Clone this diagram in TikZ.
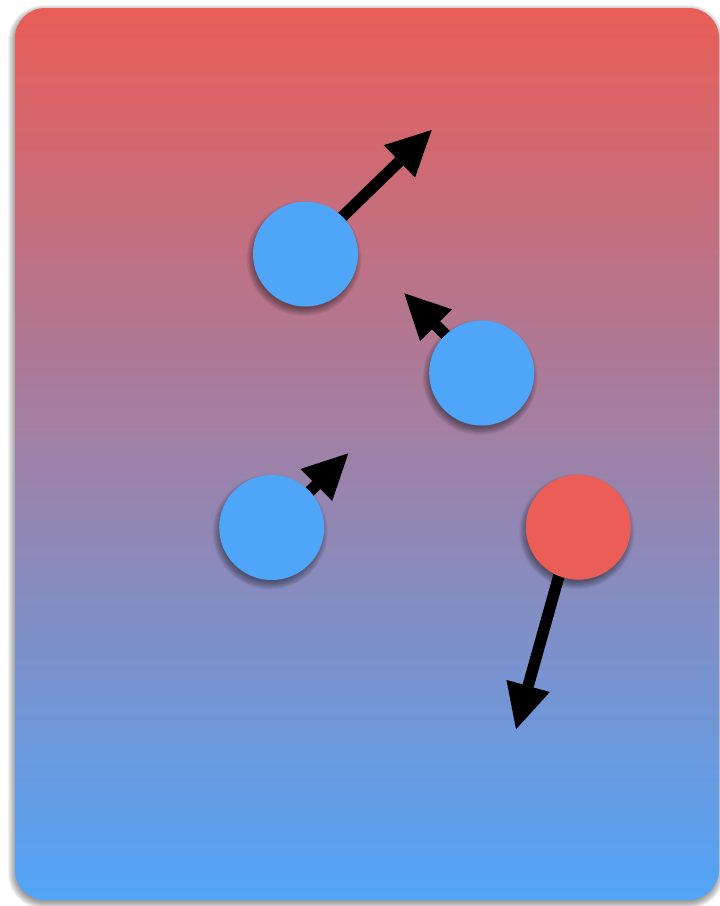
\documentclass[tikz,border=0pt]{standalone}
\usetikzlibrary{arrows.meta}
\definecolor{topred}{HTML}{E95D57}
\definecolor{botblue}{HTML}{52A5F8}
\definecolor{ballblue}{HTML}{4FA6F9}
\definecolor{ballred}{HTML}{EB5D57}
\tikzset{
  ball/.style={circle, minimum size=105pt, inner sep=0pt},
  velocity/.style={line width=11.5pt,
      -{Triangle[length=45pt,width=45pt,line width=0pt]}},
  haze/.style={fill=black, fill opacity=0.055, draw=none},
}
% soft drop shadow under a disc of radius 52.5 at (#1,#2)
\newcommand{\discshadow}[2]{%
  \foreach \k in {5,4,...,-3}
    \fill[haze] (#1-1.5,#2+4.5) circle[radius=52.5+\k];}
\begin{document}
\begin{tikzpicture}[x=1pt,y=-1pt]
  \useasboundingbox (0,0) rectangle (720,906);
  % panel shadow and panel
  \foreach \k in {6,5,...,-2}
    \fill[haze, rounded corners=30+\k] (15-1-\k,8+3-\k) rectangle (719-1+\k,900+3+\k);
  \shade[top color=topred, bottom color=botblue, rounded corners=30pt]
    (15,8) rectangle (719,900);
  % arrow tips
  \coordinate (v1) at (431.7,130);
  \coordinate (v2) at (404.3,293.3);
  \coordinate (v3) at (348.3,453.3);
  \coordinate (v4) at (516,729.3);
  % particle centres
  \coordinate (c1) at (305.5,254);
  \coordinate (c2) at (481.7,373);
  \coordinate (c3) at (271.7,527.5);
  \coordinate (c4) at (578.3,527.2);
  % tails of the velocity arrows
  \coordinate (s1) at (304,254);
  \coordinate (s2) at (483.5,373);
  \coordinate (s3) at (273.5,527.5);
  \coordinate (s4) at (572.5,527.2);
  % velocity arrows, drawn beneath the particles
  \draw[velocity] (s1) -- (v1);
  \draw[velocity] (s2) -- (v2);
  \draw[velocity] (s3) -- (v3);
  \draw[velocity] (s4) -- (v4);
  % particle shadows
  \discshadow{305.5}{254}
  \discshadow{481.7}{373}
  \discshadow{271.7}{527.5}
  \discshadow{578.3}{527.2}
  % particles
  \node[ball, fill=ballblue] (p1) at (c1) {};
  \node[ball, fill=ballblue] (p2) at (c2) {};
  \node[ball, fill=ballblue] (p3) at (c3) {};
  \node[ball, fill=ballred]  (p4) at (c4) {};
\end{tikzpicture}
\end{document}
